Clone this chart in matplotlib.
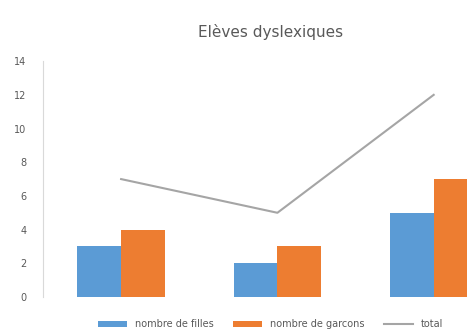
import matplotlib.pyplot as plt
import numpy as np

categories = ["A", "B", "C"]
filles = [3, 2, 5]
garcons = [4, 3, 7]
total = [7, 5, 12]

fig = plt.figure(figsize=(4.67, 3.36), dpi=100)
ax = fig.add_axes([0.092, 0.116, 1.004, 0.702])

x = np.arange(len(categories))
w = 0.28
b1 = ax.bar(x - w / 2, filles, w, color="#5B9BD5", label="nombre de filles")
b2 = ax.bar(x + w / 2, garcons, w, color="#ED7D31", label="nombre de garcons")
l1, = ax.plot(x, total, color="#A5A5A5", lw=1.5, label="total")

ax.set_xlim(-0.5, 2.5)
ax.set_ylim(0, 14)
ax.set_yticks(range(0, 15, 2))
ax.set_xticks([])
for s in ["top", "right", "bottom"]:
    ax.spines[s].set_visible(False)
ax.spines["left"].set_color("#D9D9D9")
ax.tick_params(axis="y", length=0, labelsize=7, labelcolor="#595959", pad=12)

fig.text(0.58, 0.905, "Elèves dyslexiques", ha="center", va="center",
         fontsize=11, color="#595959")
fig.legend([b1, b2, l1], ["nombre de filles", "nombre de garcons", "total"],
           loc="center", bbox_to_anchor=(0.58, 0.035), ncol=3, frameon=False,
           fontsize=7, labelcolor="#595959", handlelength=3.0,
           handleheight=0.5, columnspacing=2.0)

fig.savefig("out.png", dpi=100)
